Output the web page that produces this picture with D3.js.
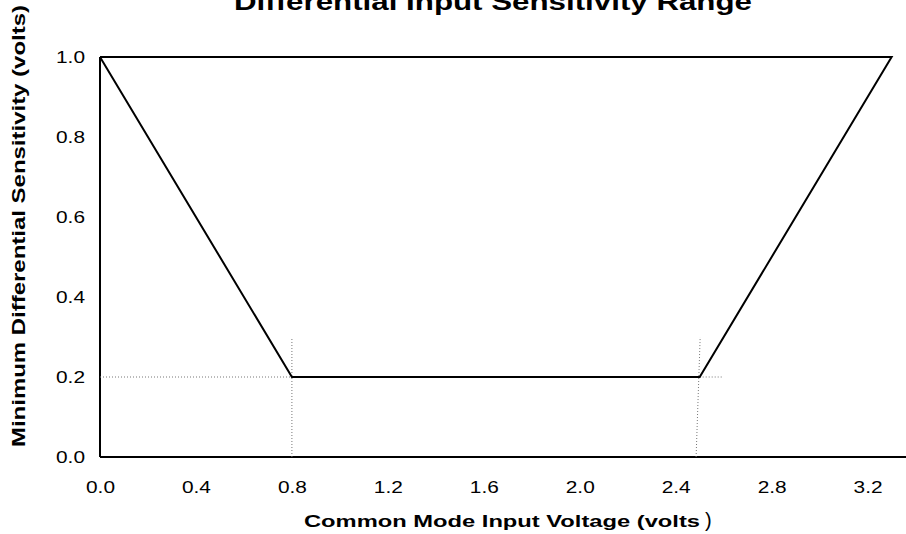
<!DOCTYPE html>
<html>
<head>
<meta charset="utf-8">
<script src="https://cdn.jsdelivr.net/npm/d3@7"></script>
<style>
  body { margin: 0; background: #fff; }
  text { font-family: Arial, "Liberation Sans", sans-serif; fill: #000; }
</style>
</head>
<body>
<script>
// datos de la curva (volts)
var modoComun = [0.0, 0.8, 2.5, 3.3, 0.0]
var sensibilidad = [1.0, 0.2, 0.2, 1.0, 1.0]

// lineas punteadas de referencia [x1, y1, x2, y2]
var guiaX1 = [0.0, 0.8, 2.485, 2.5]
var guiaY1 = [0.2, 0.0, 0.0, 0.2]
var guiaX2 = [0.8, 0.8, 2.502, 2.6]
var guiaY2 = [0.2, 0.3, 0.3, 0.2]

var ticksX = [0.0, 0.4, 0.8, 1.2, 1.6, 2.0, 2.4, 2.8, 3.2]
var ticksY = [0.0, 0.2, 0.4, 0.6, 0.8, 1.0]

var titulo = "Differential Input Sensitivity Range"
var etiquetaX = "Common Mode Input Voltage (volts"
var etiquetaY = "Minimum Differential Sensitivity (volts)"

var W = 906, H = 534

var svg = d3.select("body")
    .append("svg")
    .attr("width", W)
    .attr("height", H)

// ESCALAS
var x = d3.scaleLinear().domain([0, 3.36]).range([100, 906])
var y = d3.scaleLinear().domain([0, 1]).range([457, 57])

// EJES (solo etiquetas)
var ejeX = svg.append("g")
    .attr("transform", "translate(0," + y(0) + ")")
    .call(d3.axisBottom(x).tickValues(ticksX).tickSize(0).tickPadding(24).tickFormat(d3.format(".1f")))
ejeX.select(".domain").remove()
ejeX.selectAll("text")
    .style("font-size", "17px")
    .attr("textLength", 29)
    .attr("lengthAdjust", "spacingAndGlyphs")

var ejeY = svg.append("g")
    .attr("transform", "translate(" + x(0) + ",0)")
    .call(d3.axisLeft(y).tickValues(ticksY).tickSize(0).tickPadding(15).tickFormat(d3.format(".1f")))
ejeY.select(".domain").remove()
ejeY.selectAll("text")
    .style("font-size", "17px")
    .attr("textLength", 29)
    .attr("lengthAdjust", "spacingAndGlyphs")

// lineas de los ejes
svg.append("line")
    .attr("x1", x(0)).attr("x2", x.range()[1])
    .attr("y1", y(0)).attr("y2", y(0))
    .style("stroke", "#000").style("stroke-width", 2)
svg.append("line")
    .attr("x1", x(0)).attr("x2", x(0))
    .attr("y1", y(0)).attr("y2", y(1))
    .style("stroke", "#000").style("stroke-width", 2)

// GUIAS PUNTEADAS
svg.append("g")
    .selectAll("line")
    .data(guiaX1)
    .enter()
    .append("line")
    .attr("x1", (d, i) => x(guiaX1[i]))
    .attr("y1", (d, i) => y(guiaY1[i]))
    .attr("x2", (d, i) => x(guiaX2[i]))
    .attr("y2", (d, i) => y(guiaY2[i]))
    .style("stroke", "#777")
    .style("stroke-width", 1)
    .style("stroke-dasharray", "1,2")

// CURVA
var linea = d3.line()
    .x(d => x(d[0]))
    .y(d => y(d[1]))

svg.append("path")
    .datum(modoComun.map((d, i) => [d, sensibilidad[i]]))
    .attr("d", linea)
    .style("fill", "none")
    .style("stroke", "#000")
    .style("stroke-width", 2)
    .style("stroke-linejoin", "miter")

// TEXTOS
svg.append("text")
    .attr("x", 493).attr("y", 10)
    .attr("text-anchor", "middle")
    .style("font-size", "23px").style("font-weight", "bold")
    .attr("textLength", 518).attr("lengthAdjust", "spacingAndGlyphs")
    .text(titulo)

svg.append("text")
    .attr("x", 304).attr("y", 527)
    .style("font-size", "17px").style("font-weight", "bold")
    .attr("textLength", 396).attr("lengthAdjust", "spacingAndGlyphs")
    .text(etiquetaX)
svg.append("text")
    .attr("x", 705).attr("y", 527)
    .style("font-size", "20px")
    .text(")")

svg.append("text")
    .attr("transform", "translate(25,226) rotate(-90)")
    .attr("text-anchor", "middle")
    .style("font-size", "18px").style("font-weight", "bold")
    .attr("textLength", 442).attr("lengthAdjust", "spacingAndGlyphs")
    .text(etiquetaY)
</script>
</body>
</html>
